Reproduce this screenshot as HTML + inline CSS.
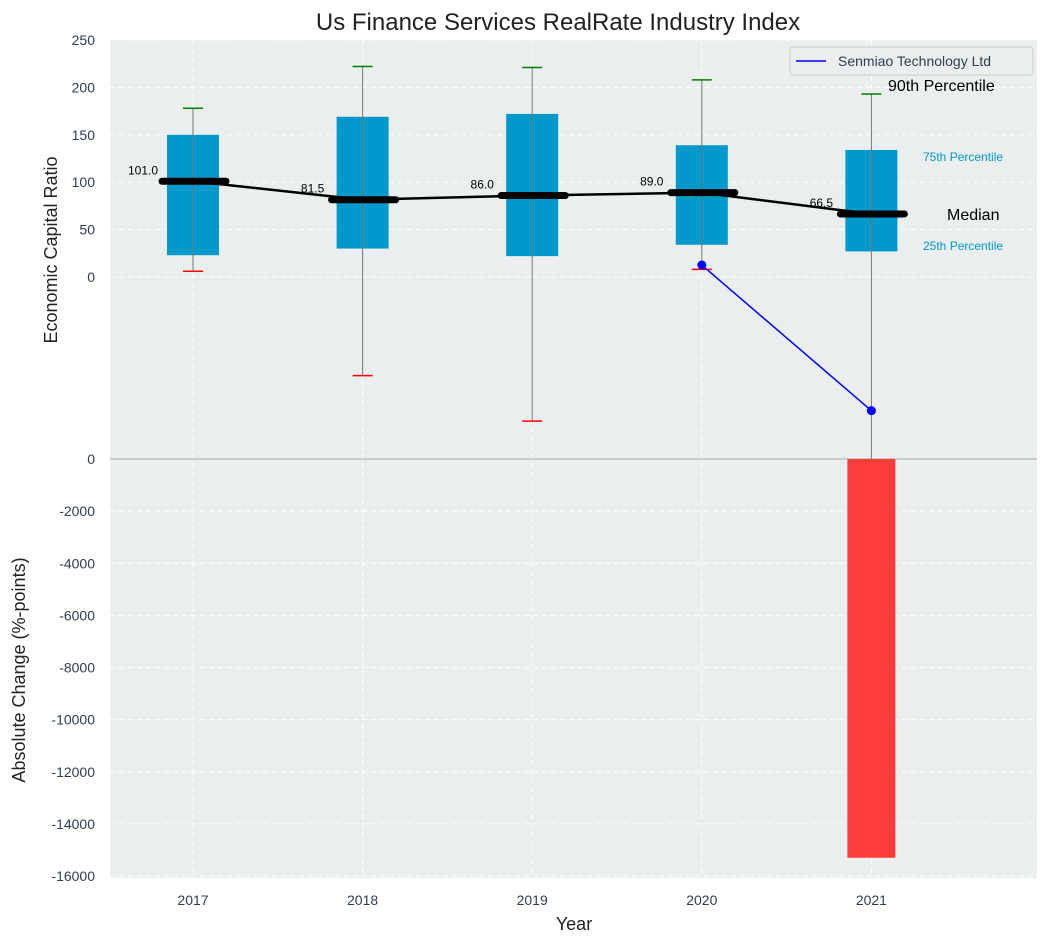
<!DOCTYPE html>
<html><head><meta charset="utf-8"><style>
body{margin:0;background:#fff;}
svg text{font-family:"Liberation Sans","DejaVu Sans",sans-serif;}
</style></head><body>
<svg id="c" width="1048" height="942" xmlns="http://www.w3.org/2000/svg"></svg>
<script>
const years=["2017","2018","2019","2020","2021"];
const q25=[23,30,22,34,27];
const q75=[150,169,172,139,134];
const p90=[178,222,221,208,193];
const p10=[6,-104,-152,8,-192];
const medians=[101,81.5,86,89,66.5];
const senmiao=[null,null,null,12.6,-141];
const absChange=[0,0,0,0,-15300];
const topTicks=[0,50,100,150,200,250];
const botTicks=[0,-2000,-4000,-6000,-8000,-10000,-12000,-14000,-16000];

const svg=document.getElementById('c');
const NS='http://www.w3.org/2000/svg';
function el(t,a,txt){const e=document.createElementNS(NS,t);for(const k in a)e.setAttribute(k,a[k]);if(txt!==undefined)e.textContent=txt;svg.appendChild(e);return e;}
const L=110,R=1037;
const xs=i=>193+i*169.6;
const yT=v=>277-v*0.948;
const yB=v=>459-v*(417/16000);

let e;
e=el('rect',{x:L,y:40,width:R-L,height:419,fill:'#eaeeee'});

e=el('rect',{x:L,y:459,width:R-L,height:419,fill:'#eaeeee'});


topTicks.forEach(t=>{
  e=el('line',{x1:L,x2:R,y1:yT(t),y2:yT(t),stroke:'#fff','stroke-dasharray':'5,4','stroke-width':1});
  
  e=el('text',{x:95,y:yT(t)+5,'text-anchor':'end','font-size':14,fill:'#2e3e50'},t);
  
});
botTicks.forEach(t=>{
  e=el('line',{x1:L,x2:R,y1:yB(t),y2:yB(t),stroke:'#fff','stroke-dasharray':'5,4','stroke-width':1});
  
  e=el('text',{x:95,y:yB(t)+5,'text-anchor':'end','font-size':14,fill:'#2e3e50'},t);
  
});
years.forEach((y,i)=>{
  e=el('line',{x1:xs(i),x2:xs(i),y1:40,y2:878,stroke:'#fff','stroke-dasharray':'5,4','stroke-width':1});
  
  e=el('text',{x:xs(i),y:905,'text-anchor':'middle','font-size':14,fill:'#2e3e50'},y);
  
});
e=el('line',{x1:L,x2:R,y1:459,y2:459,stroke:'#aaa','stroke-width':1});


years.forEach((y,i)=>{
  const v=absChange[i]; if(!v)return;
  e=el('rect',{x:xs(i)-24,y:yB(0),width:48,height:yB(v)-yB(0),fill:'#ff3c3c'});
  
});

years.forEach((y,i)=>{
  const x=xs(i);
  e=el('rect',{x:x-26,y:yT(q75[i]),width:52,height:yT(q25[i])-yT(q75[i]),fill:'#0099cc'});
  
  e=el('line',{x1:x,x2:x,y1:yT(p90[i]),y2:yT(p10[i]),stroke:'#777','stroke-width':1});
  
  e=el('line',{x1:x-10,x2:x+10,y1:yT(p90[i]),y2:yT(p90[i]),stroke:'green','stroke-width':1.5});
  
  if(i<4){
    e=el('line',{x1:x-10,x2:x+10,y1:yT(p10[i]),y2:yT(p10[i]),stroke:'red','stroke-width':1.5});
    
  }
});
e=el('polyline',{points:medians.map((m,i)=>xs(i)+','+yT(m)).join(' '),fill:'none',stroke:'#000','stroke-width':2.5});

years.forEach((y,i)=>{
  const x=xs(i);
  e=el('line',{x1:x-31,x2:x+33,y1:yT(medians[i]),y2:yT(medians[i]),stroke:'#000','stroke-width':7,'stroke-linecap':'round'});
  
  e=el('text',{x:x-50,y:yT(medians[i])-7,'text-anchor':'middle','font-size':12,fill:'#000'},medians[i].toFixed(1));
  
});
const pts=[];senmiao.forEach((v,i)=>{if(v!==null)pts.push([xs(i),yT(v)]);});
e=el('polyline',{points:pts.map(p=>p.join(',')).join(' '),fill:'none',stroke:'blue','stroke-width':1.5});

pts.forEach(p=>{e=el('circle',{cx:p[0],cy:p[1],r:4.5,fill:'blue'});
  });

e=el('text',{x:888,y:91,'font-size':16,fill:'#000'},'90th Percentile');
e=el('text',{x:923,y:161,'font-size':12,fill:'#0099cc'},'75th Percentile');
e=el('text',{x:947,y:220,'font-size':16,fill:'#000'},'Median');
e=el('text',{x:923,y:250,'font-size':12,fill:'#0099cc'},'25th Percentile');

e=el('rect',{x:790,y:47,width:243,height:28,rx:3,fill:'#eaeeee',stroke:'#ccc'});
e=el('line',{x1:796,x2:826,y1:61,y2:61,stroke:'blue','stroke-width':1.5});
e=el('text',{x:838,y:66,'font-size':14,fill:'#2e3e50'},'Senmiao Technology Ltd');

e=el('text',{x:558,y:30,'text-anchor':'middle','font-size':24,fill:'#222'},'Us Finance Services RealRate Industry Index');
e=el('text',{x:574,y:930,'text-anchor':'middle','font-size':18,fill:'#222'},'Year');
e=el('text',{x:0,y:0,'text-anchor':'middle','font-size':18,fill:'#222',transform:'translate(57,250) rotate(-90)'},'Economic Capital Ratio');
e=el('text',{x:0,y:0,'text-anchor':'middle','font-size':18,fill:'#222',transform:'translate(25,670) rotate(-90)'},'Absolute Change (%-points)');
</script>
</body></html>
